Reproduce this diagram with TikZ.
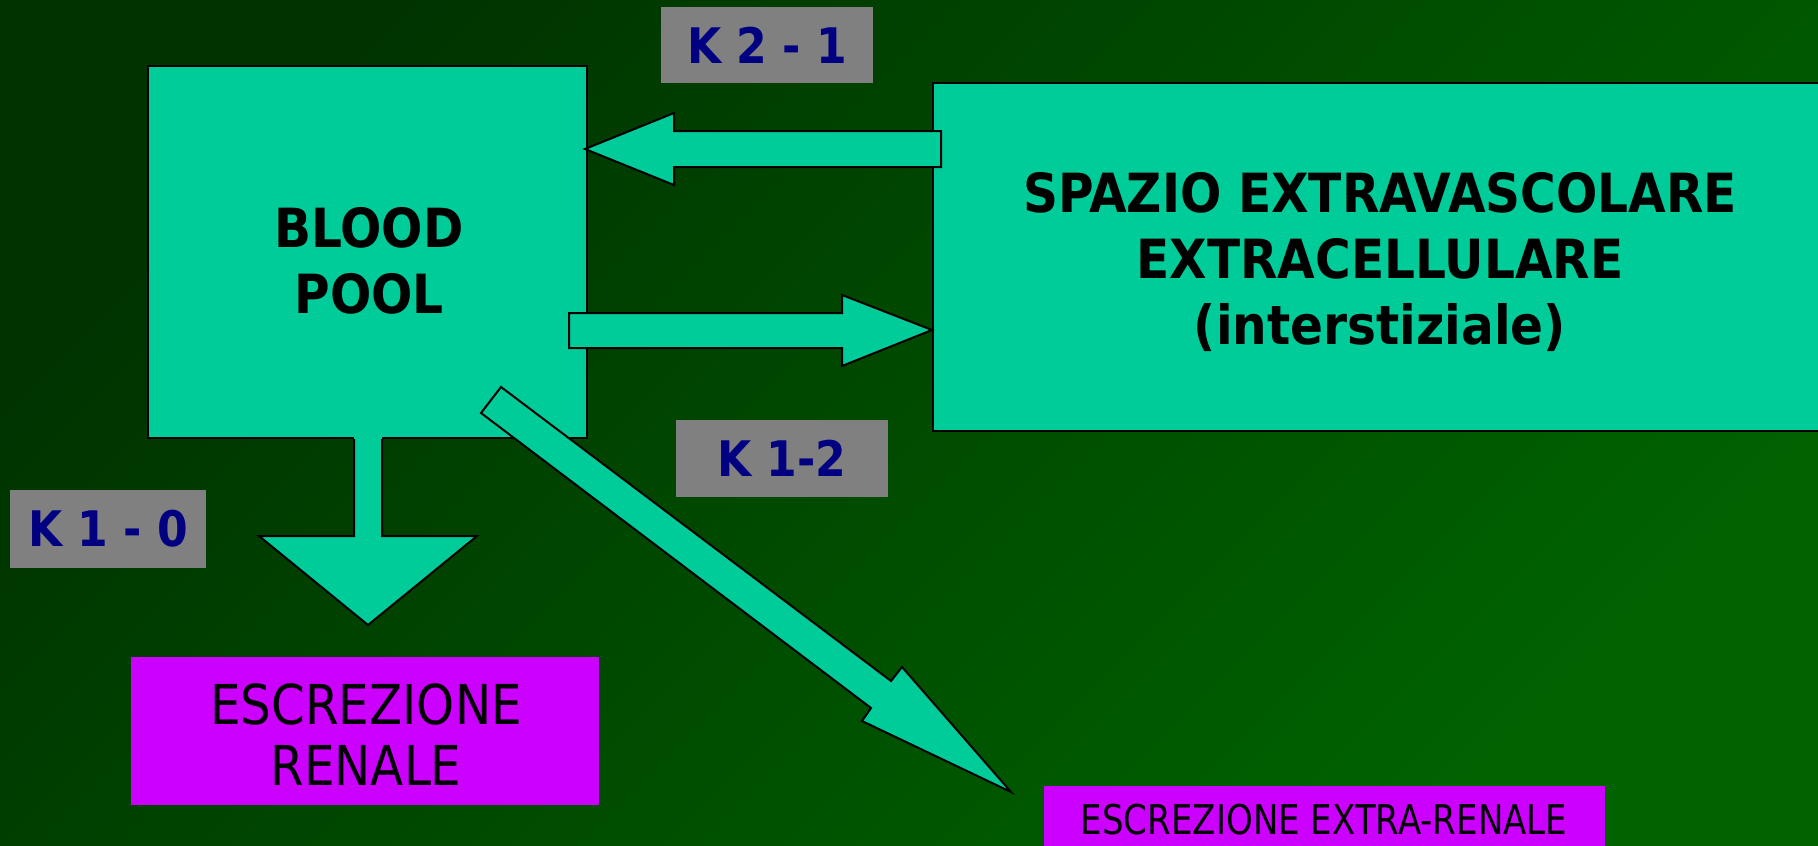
\documentclass[tikz,border=0pt]{standalone}
\usepackage{fontspec}
\usetikzlibrary{shadings}
\newfontfamily\tahb[FakeStretch=0.9]{DejaVu Sans Bold}
\newfontfamily\tahr[FakeStretch=0.88]{DejaVu Sans}
\newfontfamily\tahrn[FakeStretch=0.83]{DejaVu Sans}
\definecolor{teal}{HTML}{00CC99}
\definecolor{greybox}{HTML}{808080}
\definecolor{navy}{HTML}{000080}
\definecolor{magbox}{HTML}{CC00FF}
\definecolor{bgtl}{HTML}{003300}
\definecolor{bgbr}{HTML}{006300}
\tikzset{
  tealbox/.style={draw=black, line width=2pt, fill=teal},
  arrowshape/.style={draw=black, line width=2pt, fill=teal, line join=miter},
  klabel/.style={fill=greybox, text=navy, inner sep=0pt, font=\tahb\fontsize{49}{58}\selectfont},
  bigtext/.style={align=center, text=black, font=\tahb\fontsize{54}{66}\selectfont},
  magtext/.style={align=center, text=black, font=\tahr\fontsize{55}{61}\selectfont},
}
\begin{document}
\begin{tikzpicture}[x=1pt,y=-1pt]
\useasboundingbox (0,0) rectangle (1818,846);
\shade[shading=axis, top color=bgtl, bottom color=bgbr, shading angle=45] (0,0) rectangle (1818,846);

% boxes
\path[tealbox] (148,66) rectangle (587,438);
\node[inner sep=0pt, minimum width=0pt] (blood) at (367.5,252) {};
\path[tealbox] (933,83) rectangle (1830,431);
\node[inner sep=0pt] (spazio) at (1380,252) {};

% text
\node[bigtext] (bloodtxt) at (369,261) {BLOOD\\POOL};
\node[bigtext] (spaziotxt) at (1380,262) {SPAZIO EXTRAVASCOLARE\\EXTRACELLULARE\\(interstiziale)};

% magenta boxes
\fill[magbox] (131,657) rectangle (599,805);
\node[magtext] (renal) at (366,735) {ESCREZIONE\\RENALE};
\fill[magbox] (1044,786) rectangle (1605,846);
\node[magtext, font=\tahrn\fontsize{41}{48}\selectfont] (extra) at (1324,820) {ESCREZIONE EXTRA-RENALE};

% arrow coordinates
\coordinate (l1) at (941,131); \coordinate (l2) at (674,131); \coordinate (l3) at (674,113);
\coordinate (ltip) at (585,149);
\coordinate (l5) at (674,185); \coordinate (l6) at (674,167); \coordinate (l7) at (941,167);
\path[arrowshape] (l1) -- (l2) -- (l3) -- (ltip) -- (l5) -- (l6) -- (l7) -- cycle;

\coordinate (r1) at (569,313); \coordinate (r2) at (842,313); \coordinate (r3) at (842,295);
\coordinate (rtip) at (932,330);
\coordinate (r5) at (842,366); \coordinate (r6) at (842,348); \coordinate (r7) at (569,348);
\path[arrowshape] (r1) -- (r2) -- (r3) -- (rtip) -- (r5) -- (r6) -- (r7) -- cycle;

% down arrow
\coordinate (d0) at (354,436); \coordinate (d1) at (354,536); \coordinate (d2) at (259,536);
\coordinate (dtip) at (368,625);
\coordinate (d4) at (477,536); \coordinate (d5) at (382,536); \coordinate (d6) at (382,436);
\fill[teal] (d0) -- (d1) -- (d2) -- (dtip) -- (d4) -- (d5) -- (d6) -- cycle;
\draw[line width=2pt, line join=miter] (354,439) -- (d1) -- (d2) -- (dtip) -- (d4) -- (d5) -- (382,439);

% diagonal arrow
\coordinate (g1) at (501,387); \coordinate (g2) at (891,681); \coordinate (g3) at (902,667);
\coordinate (gtip) at (1011,792);
\coordinate (g5) at (862,721); \coordinate (g6) at (871,708); \coordinate (g7) at (481,413);
\path[arrowshape] (g1) -- (g2) -- (g3) -- (gtip) -- (g5) -- (g6) -- (g7) -- cycle;

% K labels
\node[klabel, minimum width=212pt, minimum height=76pt] (k21) at (767,45) {K 2 - 1};
\node[klabel, minimum width=212pt, minimum height=77pt] (k12) at (782,458.5) {K 1-2};
\node[klabel, minimum width=196pt, minimum height=78pt] (k10) at (108,529) {K 1 - 0};
\end{tikzpicture}
\end{document}
